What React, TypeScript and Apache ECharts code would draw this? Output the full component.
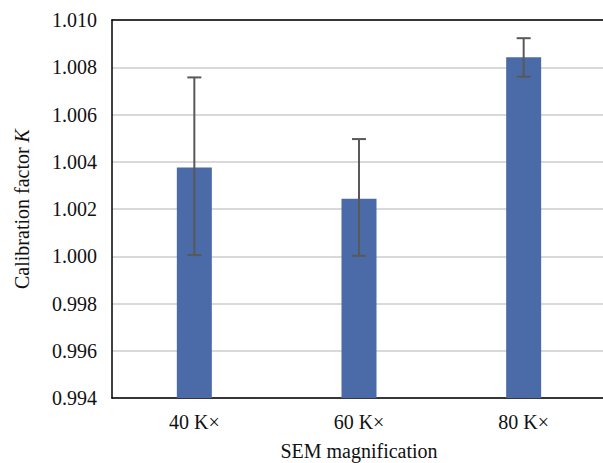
import React, { useEffect, useRef } from "react";
import * as echarts from "echarts";

const categories = ["40 K×", "60 K×", "80 K×"];
const means = [1.00376, 1.00243, 1.00842];
const errLow = [1.00005, 1.00002, 1.0076];
const errHigh = [1.00757, 1.00496, 1.00923];

const FONT = "'Liberation Serif', 'Times New Roman', serif";

export default function App() {
  const ref = useRef<HTMLDivElement>(null);
  useEffect(() => {
    document.body.style.margin = "0";
    if (!ref.current) return;
    const chart = echarts.init(ref.current, undefined, { renderer: "svg" });
    const errData = categories.map((_, i) => [i, errLow[i], errHigh[i]]);
    chart.setOption({
      animation: false,
      textStyle: { fontFamily: FONT },
      grid: {
        left: 112,
        top: 20,
        width: 494,
        bottom: 65,
        containLabel: false,
        outerBoundsMode: "none",
      },
      xAxis: [
        {
          type: "category",
          data: categories,
          axisLine: { show: true, lineStyle: { color: "#000", width: 1.5 } },
          axisTick: { show: false },
          axisLabel: { color: "#111", fontSize: 20, fontFamily: FONT, margin: 14 },
          name: "SEM magnification",
          nameLocation: "middle",
          nameGap: 43,
          nameTextStyle: { color: "#111", fontSize: 20, fontFamily: FONT },
          splitLine: { show: false },
        },
        {
          type: "category",
          data: categories,
          position: "top",
          axisLine: { show: true, lineStyle: { color: "#000", width: 1.5 } },
          axisTick: { show: false },
          axisLabel: { show: false },
          splitLine: { show: false },
        },
      ],
      yAxis: {
        type: "value",
        min: 0.994,
        max: 1.01,
        interval: 0.002,
        axisLine: { show: true, lineStyle: { color: "#000", width: 1.5 } },
        axisTick: { show: false },
        axisLabel: {
          color: "#111",
          fontSize: 20,
          fontFamily: FONT,
          margin: 15,
          formatter: (v: number) => v.toFixed(3),
        },
        splitLine: { show: true, lineStyle: { color: "#d9d9d9", width: 2 } },
        name: "Calibration factor {k|K}",
        nameLocation: "middle",
        nameRotate: 90,
        nameGap: 80,
        nameTextStyle: {
          color: "#111",
          fontSize: 20,
          fontFamily: FONT,
          rich: { k: { fontStyle: "italic", fontSize: 20, fontFamily: FONT, color: "#111" } },
        },
      },
      series: [
        {
          type: "bar",
          data: means,
          barWidth: 35,
          itemStyle: { color: "#4a6ba7" },
          z: 2,
        },
        {
          type: "custom",
          data: errData,
          z: 3,
          renderItem: (params: any, api: any) => {
            const x = api.value(0);
            const lo = api.coord([x, api.value(1)]);
            const hi = api.coord([x, api.value(2)]);
            const half = 7;
            const style = { stroke: "#595959", lineWidth: 2 };
            return {
              type: "group",
              children: [
                { type: "line", shape: { x1: hi[0], y1: hi[1], x2: lo[0], y2: lo[1] }, style },
                { type: "line", shape: { x1: hi[0] - half, y1: hi[1], x2: hi[0] + half, y2: hi[1] }, style },
                { type: "line", shape: { x1: lo[0] - half, y1: lo[1], x2: lo[0] + half, y2: lo[1] }, style },
              ],
            };
          },
        },
      ],
    });
    return () => chart.dispose();
  }, []);
  return <div ref={ref} style={{ width: 603, height: 463 }} />;
}
